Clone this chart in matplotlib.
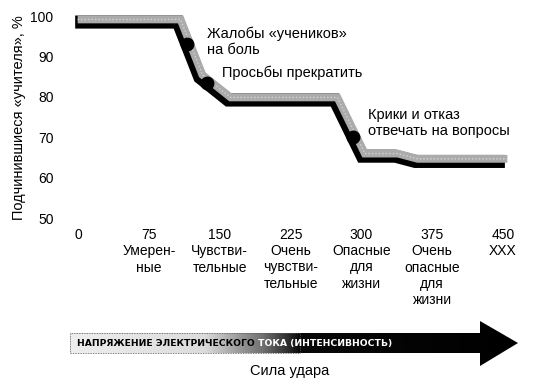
import numpy as np
import matplotlib
matplotlib.use("Agg")
import matplotlib.pyplot as plt
from matplotlib.patches import Polygon
from matplotlib.transforms import Bbox, TransformedBbox
import matplotlib.transforms as mtransforms

plt.rcParams['font.family'] = ['Liberation Sans Narrow', 'Liberation Sans', 'DejaVu Sans']

# ---- data ----
line_x = [-3, 106, 129, 159, 272, 301, 336, 357, 452]
line_y = [98.5, 98.5, 84.8, 79.2, 79.2, 65.3, 65.3, 64.0, 64.0]
event_x = [115, 137, 291]
event_labels = ["Жалобы «учеников»\nна боль", "Просьбы прекратить",
                "Крики и отказ\nотвечать на вопросы"]
label_pos = [(137, 97.5), (152, 87.8), (307, 77.2)]
xticks = [0, 75, 150, 225, 300, 375, 450]
xticklabels = ["0", "75\nУмерен-\nные", "150\nЧувстви-\nтельные",
               "225\nОчень\nчувстви-\nтельные", "300\nОпасные\nдля\nжизни",
               "375\nОчень\nопасные\nдля\nжизни", "450\nХХХ"]
yticks = [50, 60, 70, 80, 90, 100]
ylabel = "Подчинившиеся «учителя», %"
xlabel = "Сила удара"
arrow_text = "НАПРЯЖЕНИЕ ЭЛЕКТРИЧЕСКОГО ТОКА (ИНТЕНСИВНОСТЬ)"

W, H = 539, 389
fig = plt.figure(figsize=(W / 100, H / 100), dpi=100)

# main axes placement (pixel based)
xlim = (-20, 470)
ylim = (47.5, 102)
pxu = 425 / 450
pyu = 202 / 50
left_px = 78 + xlim[0] * pxu
right_px = 503 + (xlim[1] - 450) * pxu
top_px = 16 - (ylim[1] - 100) * pyu
bot_px = 218 + (50 - ylim[0]) * pyu
ax = fig.add_axes([left_px / W, 1 - bot_px / H, (right_px - left_px) / W, (bot_px - top_px) / H])
ax.set_xlim(*xlim)
ax.set_ylim(*ylim)
for s in ax.spines.values():
    s.set_visible(False)
ax.set_yticks(yticks)
ax.set_yticklabels([str(v) for v in yticks], fontsize=10)
ax.set_xticks(xticks)
ax.set_xticklabels(xticklabels, fontsize=10, linespacing=1.2, va='top', ha='center')
ax.tick_params(axis='both', length=0)
ax.tick_params(axis='y', pad=4)
ax.tick_params(axis='x', pad=0)
ax.set_ylabel(ylabel, fontsize=10.5, labelpad=3)

# ribbon
ax.plot(line_x, line_y, color='black', lw=9.4, solid_capstyle='butt', solid_joinstyle='miter', zorder=2)
off = mtransforms.offset_copy(ax.transData, fig=fig, x=2.5, y=2.6, units='dots')
ax.plot(line_x, line_y, color='#ababab', lw=5.6, solid_capstyle='butt', solid_joinstyle='miter',
        transform=off, zorder=3)
ax.plot(line_x, line_y, color='#d4d4d4', lw=1.0, ls=(0, (1, 1.5)),
        transform=off, zorder=4)

ev_y = np.interp(event_x, line_x, line_y)
ax.plot(event_x, ev_y, 'o', color='black', ms=9, zorder=5)
for (lx, ly), t in zip(label_pos, event_labels):
    ax.text(lx, ly, t, fontsize=10.5, va='top', ha='left', linespacing=1.2)

# overlay axes in pixel coords for the arrow
ov = fig.add_axes([0, 0, 1, 1])
ov.set_xlim(0, W)
ov.set_ylim(H, 0)
ov.axis('off')

poly = [(70, 333), (480, 333), (480, 321), (518, 343), (480, 366), (480, 353), (70, 353)]
arrow = Polygon(poly, closed=True, facecolor='none', edgecolor='none', transform=ov.transData)
ov.add_patch(arrow)
gx = np.linspace(70, 518, 448)
gv = np.interp(gx, [70, 205, 240, 262, 288, 300, 518], [0.93, 0.86, 0.6, 0.45, 0.18, 0.03, 0.0])
img = ov.imshow(gv[None, :], extent=(70, 518, 366, 321), cmap='gray', vmin=0, vmax=1,
                aspect='auto', interpolation='bilinear', zorder=2)
img.set_clip_path(arrow)
ov.add_patch(Polygon([(70, 333), (300, 333), (300, 353), (70, 353)], closed=True, facecolor='none',
                     edgecolor='#555555', lw=0.6, ls=(0, (1, 1)), zorder=3, transform=ov.transData))
ov.set_xlim(0, W)
ov.set_ylim(H, 0)

split = 258
t1 = ov.text(77, 343.5, arrow_text, fontsize=6.7, fontweight='bold', family='DejaVu Sans',
             color='black', va='center', ha='left', zorder=4)
t1.set_clip_on(True)
t1.set_clip_box(TransformedBbox(Bbox([[0, 0], [split, H]]), ov.transData))
t2 = ov.text(77, 343.5, arrow_text, fontsize=6.7, fontweight='bold', family='DejaVu Sans',
             color='white', va='center', ha='left', zorder=4)
t2.set_clip_on(True)
t2.set_clip_box(TransformedBbox(Bbox([[split, 0], [W, H]]), ov.transData))

ov.text(290, 371, xlabel, fontsize=10.5, ha='center', va='center')

fig.savefig('out.png', dpi=100)
